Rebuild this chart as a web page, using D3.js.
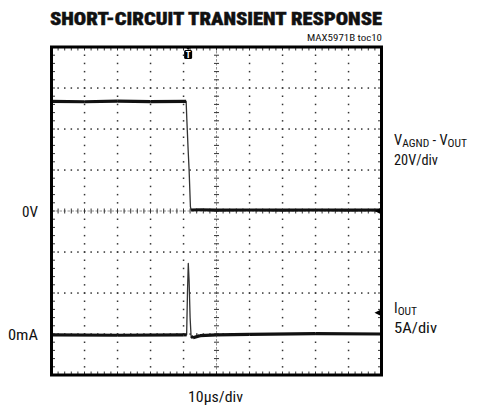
<!DOCTYPE html>
<html><head><meta charset="utf-8">
<script src="https://cdn.jsdelivr.net/npm/d3@7"></script>
<style>
body{margin:0;background:#fff}
svg{display:block}
text{font-family:"Liberation Sans Narrow","Roboto Condensed","Arial Narrow",Roboto,"DejaVu Sans Condensed",sans-serif;fill:#111}
</style>
</head><body>
<svg id="c" width="485" height="409"></svg>
<script>
// ---- data ----
const title = "SHORT-CIRCUIT TRANSIENT RESPONSE";
const subtitle = "MAX5971B toc10";
// channel 1: VAGND - VOUT (V), 20V/div
const timeV = [0, 10, 20, 30, 40.8, 41.0, 41.4, 41.7, 42.1, 42.3, 45, 50, 60, 70, 80, 90, 100];
const voltV = [53.5, 53.3, 53.6, 53.4, 53.5, 45, 30, 20, 2, 0.5, 0.6, 0.4, 0.5, 0.4, 0.5, 0.4, 0.5];
// channel 2: IOUT (A), 5A/div
const timeI = [0, 20, 40, 40.95, 41.2, 41.45, 41.7, 42.0, 42.3, 42.9, 45, 50, 60, 80, 100];
const currI = [-0.1, -0.15, -0.1, -0.1, 5, 8.6, 6.5, 2, -0.3, -0.45, -0.2, -0.1, -0.05, 0.05, 0];
const triggerTime = 41.4;
const markerLevelV = 0;    // ch1 marker (V)
const markerLevelI = 2.6;  // ch2 marker (A)
const levelLabels = ["0V", "0mA"];
const scaleLabels = ["20V/div", "5A/div"];
const timeLabel = "10\u00b5s/div";

// ---- layout ----
const L = 51.5, R = 381.5, T = 47, B = 375;
const svg = d3.select("#c");
const x = d3.scaleLinear().domain([0, 100]).range([L, R]);
const yV = d3.scaleLinear().domain([-80, 80]).range([B, T]);
const yI = d3.scaleLinear().domain([-5, 35]).range([B, T]);

const majX = d3.range(0, 101, 10), minX = d3.range(0, 100.01, 2);
const majY = d3.range(-80, 81, 20), minY = d3.range(-80, 80.01, 4);

const grid = svg.append("g");
// dotted major grid lines
majX.filter(v => v > 0 && v < 100 && v !== 50).forEach(v => {
  grid.selectAll(null).data(minY.filter(w => w > -80 && w < 80)).join("rect")
    .attr("x", x(v) - 0.7).attr("y", d => yV(d) - 0.7).attr("width", 1.5).attr("height", 1.5).attr("fill", "#333");
});
majY.filter(v => v > -80 && v < 80 && v !== 0).forEach(v => {
  grid.selectAll(null).data(minX.filter(w => w > 0 && w < 100)).join("rect")
    .attr("x", d => x(d) - 0.7).attr("y", yV(v) - 0.7).attr("width", 1.5).attr("height", 1.5).attr("fill", "#333");
});
// center cross lines with minor ticks
grid.append("line").attr("x1", L).attr("x2", R).attr("y1", yV(0)).attr("y2", yV(0))
  .attr("stroke", "#777").attr("stroke-width", 0.8).attr("stroke-dasharray", "2.5,1.5");
grid.append("line").attr("x1", x(50)).attr("x2", x(50)).attr("y1", T).attr("y2", B)
  .attr("stroke", "#777").attr("stroke-width", 0.8).attr("stroke-dasharray", "2.5,1.5");
grid.selectAll(null).data(minX).join("line")
  .attr("x1", d => x(d)).attr("x2", d => x(d)).attr("y1", yV(0) - 2.5).attr("y2", yV(0) + 2.5)
  .attr("stroke", "#333").attr("stroke-width", 1);
grid.selectAll(null).data(minY).join("line")
  .attr("y1", d => yV(d)).attr("y2", d => yV(d)).attr("x1", x(50) - 2.5).attr("x2", x(50) + 2.5)
  .attr("stroke", "#333").attr("stroke-width", 1);
// edge ticks
grid.selectAll(null).data(minX).join("line")
  .attr("x1", d => x(d)).attr("x2", d => x(d)).attr("y1", T).attr("y2", T + 3.5).attr("stroke", "#333");
grid.selectAll(null).data(minX).join("line")
  .attr("x1", d => x(d)).attr("x2", d => x(d)).attr("y1", B).attr("y2", B - 3.5).attr("stroke", "#333");
grid.selectAll(null).data(minY).join("line")
  .attr("y1", d => yV(d)).attr("y2", d => yV(d)).attr("x1", L).attr("x2", L + 3.5).attr("stroke", "#333");
grid.selectAll(null).data(minY).join("line")
  .attr("y1", d => yV(d)).attr("y2", d => yV(d)).attr("x1", R).attr("x2", R - 3.5).attr("stroke", "#333");

// ---- traces ----
function drawTrace(ts, vs, y) {
  const pts = ts.map((t, i) => [x(t), y(vs[i])]);
  svg.append("path").attr("d", d3.line()(pts)).attr("fill", "none")
    .attr("stroke", "#333").attr("stroke-width", 1.3).attr("stroke-linejoin", "round");
  // thick slow segments
  for (let i = 0; i < pts.length - 1; i++) {
    const slope = Math.abs(pts[i + 1][1] - pts[i][1]) / Math.max(0.01, pts[i + 1][0] - pts[i][0]);
    if (slope < 2) {
      svg.append("line").attr("x1", pts[i][0]).attr("y1", pts[i][1]).attr("x2", pts[i + 1][0]).attr("y2", pts[i + 1][1])
        .attr("stroke", "#111").attr("stroke-width", 3.2).attr("stroke-linecap", "butt");
    }
  }
}
drawTrace(timeV, voltV, yV);
drawTrace(timeI, currI, yI);

// frame
svg.append("rect").attr("x", L).attr("y", T).attr("width", R - L).attr("height", B - T)
  .attr("fill", "none").attr("stroke", "#000").attr("stroke-width", 3);

// markers on right edge
const arrow = (cx, cy) => `M${cx - 7},${cy} L${cx},${cy - 3.5} L${cx},${cy + 3.5} Z`;
svg.append("path").attr("d", arrow(R, yV(markerLevelV))).attr("fill", "#000");
svg.append("path").attr("d", arrow(R, yI(markerLevelI))).attr("fill", "#000");
// trigger marker
const tx = x(triggerTime);
svg.append("path").attr("d", `M${tx - 3.5},${T - 1} L${tx + 3.5},${T - 1} L${tx},${T + 3} Z`).attr("fill", "#000");
svg.append("rect").attr("x", tx - 4).attr("y", T + 3).attr("width", 8).attr("height", 9).attr("rx", 1.5).attr("fill", "#000");
svg.append("text").attr("x", tx).attr("y", T + 10.5).attr("text-anchor", "middle")
  .attr("font-size", 9).attr("font-weight", "bold").style("fill", "#fff").text("T");

// ---- texts ----
svg.append("text").attr("x", 50).attr("y", 25).attr("font-size", 18).attr("font-weight", 900)
  .style("stroke", "#111").style("stroke-width", 0.4)
  .attr("textLength", 332).attr("lengthAdjust", "spacingAndGlyphs").text(title);
svg.append("text").attr("x", 307).attr("y", 41).attr("font-size", 8.5)
  .attr("textLength", 75).attr("lengthAdjust", "spacingAndGlyphs").text(subtitle);
svg.append("text").attr("x", 22).attr("y", yV(0) + 6).attr("font-size", 14)
  .attr("textLength", 16).attr("lengthAdjust", "spacingAndGlyphs").text(levelLabels[0]);
svg.append("text").attr("x", 8).attr("y", yI(0) + 6).attr("font-size", 14)
  .attr("textLength", 30).attr("lengthAdjust", "spacingAndGlyphs").text(levelLabels[1]);
svg.append("text").attr("x", 188).attr("y", 402).attr("font-size", 14)
  .attr("textLength", 55).attr("lengthAdjust", "spacingAndGlyphs").text(timeLabel);

const vl = svg.append("text").attr("x", 394).attr("y", 145).attr("font-size", 14.5);
vl.append("tspan").text("V");
vl.append("tspan").attr("font-size", 11.5).attr("dy", 1.5).text("AGND");
vl.append("tspan").attr("dy", -1.5).text(" - V");
vl.append("tspan").attr("font-size", 11.5).attr("dy", 1.5).text("OUT");
svg.append("text").attr("x", 394).attr("y", 165).attr("font-size", 14)
  .attr("textLength", 44).attr("lengthAdjust", "spacingAndGlyphs").text(scaleLabels[0]);
const il = svg.append("text").attr("x", 394).attr("y", 313).attr("font-size", 14.5);
il.append("tspan").text("I");
il.append("tspan").attr("font-size", 11.5).attr("dy", 1.5).text("OUT");
svg.append("text").attr("x", 394).attr("y", 333).attr("font-size", 14)
  .attr("textLength", 43).attr("lengthAdjust", "spacingAndGlyphs").text(scaleLabels[1]);
</script>
</body></html>
